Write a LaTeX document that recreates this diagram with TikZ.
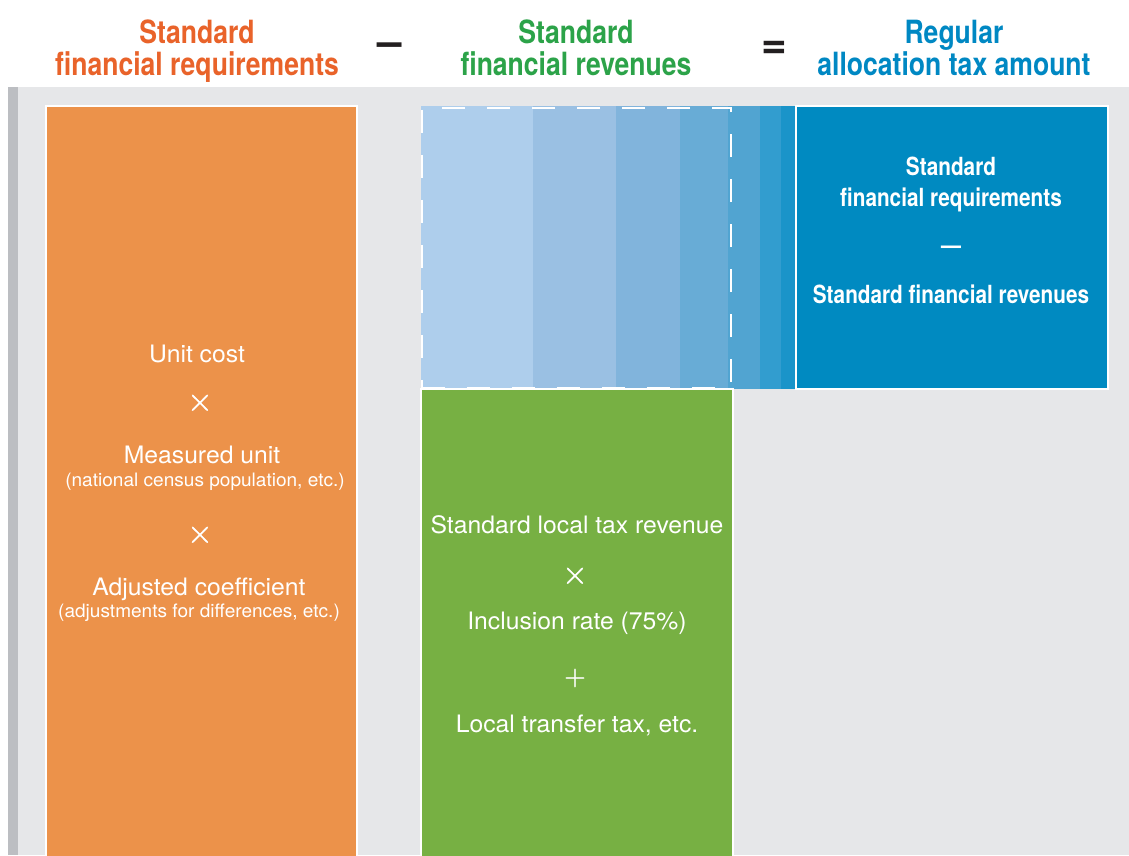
\documentclass[tikz,border=0pt]{standalone}
\usepackage{fontspec}
\setmainfont{TeX Gyre Heros}
\newfontfamily\condfont[FakeStretch=0.83]{TeX Gyre Heros}
\newfontfamily\bodyfont[FakeStretch=1.03]{TeX Gyre Heros}
\newfontfamily\symfont[FakeBold=1.5]{Latin Modern Roman}
\definecolor{panel}{HTML}{E6E7E9}
\definecolor{panelbar}{HTML}{BCBEC2}
\definecolor{orangebox}{HTML}{EC924A}
\definecolor{greenbox}{HTML}{77B043}
\definecolor{bluebox}{HTML}{008AC1}
\definecolor{sA}{HTML}{AECEEC}
\definecolor{sB}{HTML}{9AC0E3}
\definecolor{sC}{HTML}{81B4DC}
\definecolor{sD}{HTML}{68ACD6}
\definecolor{sE}{HTML}{51A4D1}
\definecolor{sF}{HTML}{329DCF}
\definecolor{sG}{HTML}{1A94C9}
\definecolor{horange}{HTML}{E9632A}
\definecolor{hgreen}{HTML}{2CA349}
\definecolor{hblue}{HTML}{0088C3}
\definecolor{opcol}{HTML}{231F20}
\begin{document}
\begin{tikzpicture}[x=1pt,y=-1pt,
  box/.style={draw=white,line width=2.5pt,inner sep=0pt,outer sep=0pt,anchor=north west},
  stripe/.style={inner sep=0pt,outer sep=0pt,anchor=north west,minimum height=283pt},
  head/.style={anchor=base,inner sep=0pt,font=\condfont\bfseries\fontsize{32}{32}\selectfont},
  op/.style={anchor=center,inner sep=0pt,text=opcol,font=\bfseries\fontsize{44}{44}\selectfont},
  body/.style={anchor=base,inner sep=0pt,text=white,font=\bodyfont\fontsize{24}{28}\selectfont},
  small/.style={anchor=base,inner sep=0pt,text=white,font=\bodyfont\fontsize{18.5}{22}\selectfont},
  sym/.style={anchor=center,inner sep=0pt,text=white,font=\symfont\fontsize{35}{35}\selectfont},
  btext/.style={anchor=base,inner sep=0pt,text=white,font=\condfont\bfseries\fontsize{25}{28}\selectfont}]
\useasboundingbox (0,0) rectangle (1129,855);
\clip (0,0) rectangle (1129,855);
\fill[white] (0,0) rectangle (1129,855);
\fill[panel] (8,87) rectangle (1129,855);
\fill[panelbar] (8,87) rectangle (18,855);

% headings
\node[head,text=horange] (h1a) at (197,43) {Standard};
\node[head,text=horange] (h1b) at (197,75) {financial requirements};
\node[head,text=hgreen] (h2a) at (576,43) {Standard};
\node[head,text=hgreen] (h2b) at (576,75) {financial revenues};
\node[head,text=hblue] (h3a) at (954,43) {Regular};
\node[head,text=hblue] (h3b) at (954,75) {allocation tax amount};
\node[op] (minus) at (390,50) {–};
\node[op] (equals) at (774,50) {=};

% orange box
\node[box,fill=orangebox,minimum width=311pt,minimum height=780pt] (req) at (46,106) {};
\node[body] (o1) at (197,362) {Unit cost};
\node[sym] (o2) at (200,403) {×};
\node[body] (o3) at (202,463) {Measured unit};
\node[small] (o4) at (205,486) {(national census population, etc.)};
\node[sym] (o5) at (200,535) {×};
\node[body] (o6) at (199,595) {Adjusted coefficient};
\node[small] (o7) at (199,617) {(adjustments for differences, etc.)};

% stripes
\node[stripe,fill=sA,minimum width=113pt] (s1) at (421,106) {};
\node[stripe,fill=sB,minimum width=84pt] (s2) at (533,106) {};
\node[stripe,fill=sC,minimum width=65pt] (s3) at (616,106) {};
\node[stripe,fill=sD,minimum width=49pt] (s4) at (680,106) {};
\node[stripe,fill=sE,minimum width=33pt] (s5) at (728,106) {};
\node[stripe,fill=sF,minimum width=22pt] (s6) at (760,106) {};
\node[stripe,fill=sG,minimum width=15pt] (s7) at (781,106) {};
\node[draw=white,line width=2.5pt,dash pattern=on 23pt off 22pt,inner sep=0pt,outer sep=0pt,anchor=north west,minimum width=309pt,minimum height=280pt] (dash) at (422,108) {};

% green box
\node[box,fill=greenbox,minimum width=312pt,minimum height=480pt] (rev) at (421,389) {};
\node[body] (g1) at (577,533) {Standard local tax revenue};
\node[sym] (g2) at (575,576) {×};
\node[body] (g3) at (577,629) {Inclusion rate (75\%)};
\node[sym,font=\symfont\fontsize{29}{29}\selectfont] (g4) at (575,678) {+};
\node[body] (g5) at (577,732) {Local transfer tax, etc.};

% blue box
\node[box,fill=bluebox,minimum width=312pt,minimum height=283pt] (alloc) at (796,106) {};
\node[btext] (b1) at (951,175) {Standard};
\node[btext] (b2) at (951,206) {financial requirements};
\node[anchor=center,inner sep=0pt,text=white,font=\condfont\bfseries\fontsize{24}{28}\selectfont] (b3) at (951,250) {—};
\node[btext] (b4) at (951,303) {Standard financial revenues};
\end{tikzpicture}
\end{document}
